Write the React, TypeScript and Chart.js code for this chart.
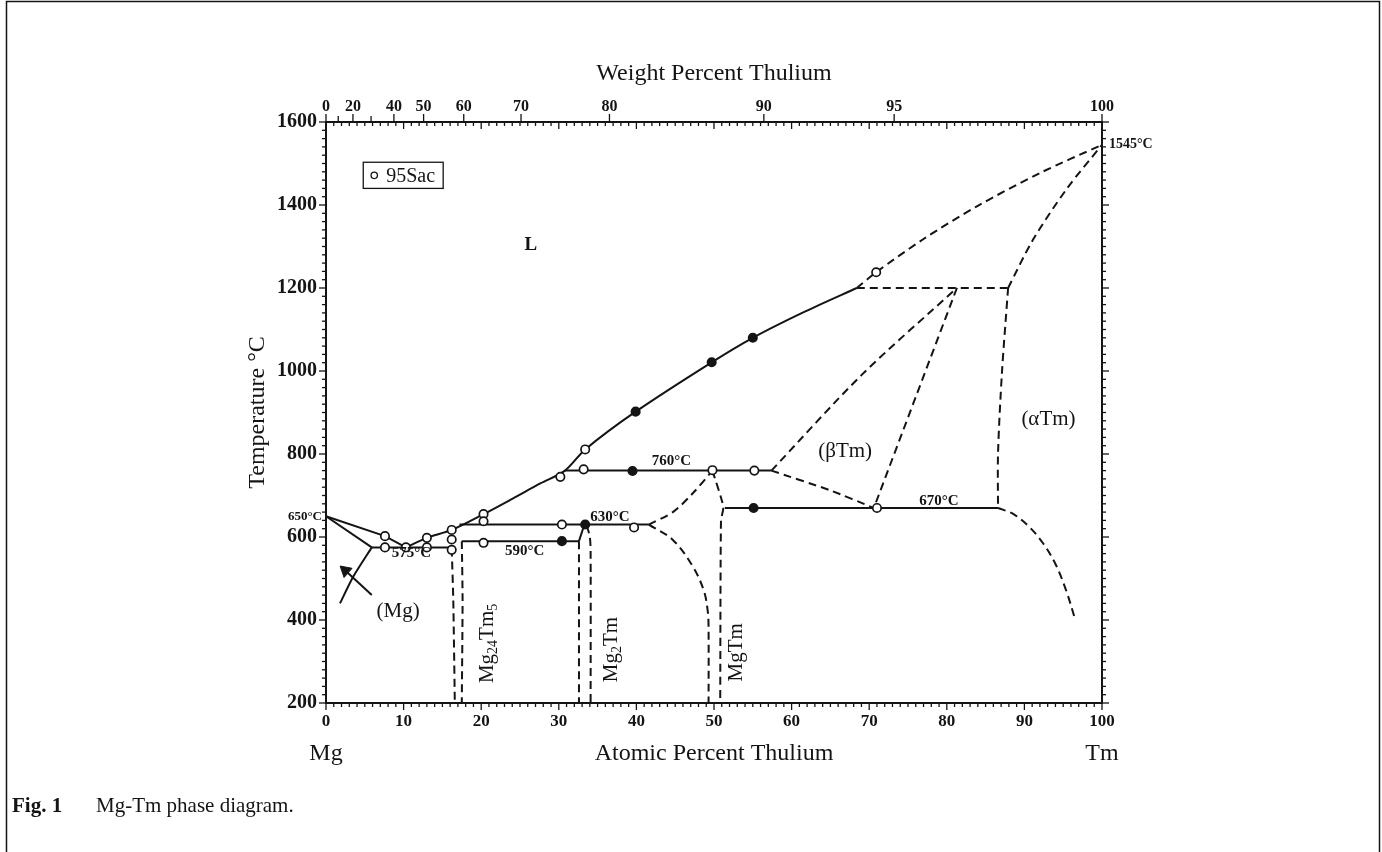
import React, { useEffect, useRef } from 'react';
import { Chart, registerables } from 'chart.js';

Chart.register(...registerables);

const SERIF = '"Liberation Serif", "DejaVu Serif", "Times New Roman", serif';
const INK = '#141414';

// ---- axis data ----
const atomicTicks = [0, 10, 20, 30, 40, 50, 60, 70, 80, 90, 100];
const temperatureTicks = [200, 400, 600, 800, 1000, 1200, 1400, 1600];
const weightLabels = [0, 20, 40, 50, 60, 70, 80, 90, 95, 100];
const weightUnlabeled = [10, 30];

// ---- solid phase boundaries [at.% Tm, °C] ----
const liquidusMg = [[0, 650], [7.6, 602], [10.3, 575]];
const liquidusMain = [
  [10.3, 575], [13.0, 598], [16.2, 617], [20.3, 655], [24.0, 692], [27.6, 729],
  [30.8, 760], [33.4, 811], [39.9, 902], [49.7, 1021], [55.0, 1080], [61.7, 1143], [68.4, 1200],
];
const solidusMg = [[0, 650], [5.9, 575]];
const solvusMg = [[5.9, 575], [3.5, 504], [1.8, 440]];
const eutectic575 = [[5.9, 575], [16.2, 575]];
const peritectic590 = [[17.5, 590], [32.6, 590]];
const peritectic630 = [[17.2, 630], [41.6, 630]];
const mg2TmSolid = [[32.6, 590], [33.3, 630]];
const peritectic760 = [[30.8, 760], [57.4, 760]];
const eutectoid670 = [[51.4, 670], [86.6, 670]];
const arrowShaft = [[5.9, 460], [2.8, 514]];
const arrowHead = [[2.5, 519]];

// ---- dashed phase boundaries ----
const mg24Tm5Left = [[16.2, 572], [16.4, 450], [16.6, 200]];
const mg24Tm5Right = [[17.5, 590], [17.6, 450], [17.5, 200]];
const mg2TmLeft = [[32.6, 590], [32.6, 200]];
const mg2TmRight = [[33.6, 628], [34.0, 600], [34.1, 560], [34.1, 200]];
const mgTmLeft = [[41.6, 630], [44.7, 593], [47.3, 528], [48.7, 470], [49.2, 420], [49.3, 380], [49.3, 200]];
const mgTmRight = [[49.8, 760], [51.2, 673], [50.9, 640], [50.8, 200]];
const mgTmLiquidus = [[41.6, 630], [44.7, 660], [47.3, 706], [49.8, 760]];
const betaUpper = [[57.4, 760], [69.0, 990], [81.3, 1200]];
const betaLower = [[57.4, 760], [64.9, 713], [70.6, 670]];
const betaAlpha = [[81.3, 1200], [70.6, 670]];
const alphaBoundary = [[87.9, 1200], [87.1, 994], [86.6, 800], [86.6, 670]];
const alphaSolvus = [[86.6, 670], [88.6, 655], [90.6, 625], [92.4, 585], [94.0, 535], [95.4, 470], [96.5, 404]];
const isotherm1200 = [[68.4, 1200], [87.9, 1200]];
const liquidusTm = [[68.4, 1200], [70.9, 1238], [77.0, 1318], [84.0, 1398], [92.0, 1477], [100, 1545]];
const solidusTm = [[87.9, 1200], [91.1, 1316], [95.5, 1440], [100, 1545]];

// ---- experimental points (95Sac) ----
const openPoints = [
  [7.6, 602], [7.6, 575], [10.3, 575], [13.0, 575], [16.2, 569], [13.0, 598], [16.2, 594],
  [16.2, 617], [20.3, 655], [20.3, 638], [20.3, 586], [30.2, 745], [30.4, 630], [33.4, 811],
  [33.2, 763], [39.7, 623], [49.8, 761], [55.2, 760], [70.9, 1238], [71.0, 670],
];
const filledPoints = [
  [30.4, 590], [33.4, 630], [39.5, 759], [39.9, 902], [49.7, 1021], [55.0, 1080], [55.1, 670],
];

const M_TM = 168.934;
const M_MG = 24.305;
const wtToAt = (w: number) =>
  w >= 100 ? 100 : ((w / M_TM) / (w / M_TM + (100 - w) / M_MG)) * 100;

const toPts = (a: number[][]) => a.map(([x, y]) => ({ x, y }));

const lineSet = (a: number[][], dashed = false, tension = 0) => ({
  data: toPts(a),
  showLine: true,
  borderColor: INK,
  borderWidth: 2,
  borderDash: dashed ? [8, 5] : [],
  pointRadius: 0,
  tension,
  fill: false,
  order: 2,
  clip: false as any,
});

const datasets: any[] = [
  {
    data: toPts(openPoints), showLine: false, pointStyle: 'circle', pointRadius: 4.2,
    pointBorderWidth: 1.7, pointBackgroundColor: '#ffffff', pointBorderColor: INK, order: 0, clip: false,
  },
  {
    data: toPts(filledPoints), showLine: false, pointStyle: 'circle', pointRadius: 4.2,
    pointBorderWidth: 1.7, pointBackgroundColor: INK, pointBorderColor: INK, order: 0, clip: false,
  },
  {
    data: toPts(arrowHead), showLine: false, pointStyle: 'triangle', pointRadius: 7,
    rotation: -49, pointBorderWidth: 1, pointBackgroundColor: INK, pointBorderColor: INK, order: 0, clip: false,
  },
  lineSet(liquidusMg),
  lineSet(liquidusMain, false, 0.3),
  lineSet(solidusMg),
  lineSet(solvusMg, false, 0.2),
  lineSet(eutectic575),
  lineSet(peritectic590),
  lineSet(peritectic630),
  lineSet(mg2TmSolid),
  lineSet(peritectic760),
  lineSet(eutectoid670),
  lineSet(arrowShaft),
  lineSet(mg24Tm5Left, true, 0.2),
  lineSet(mg24Tm5Right, true, 0.2),
  lineSet(mg2TmLeft, true),
  lineSet(mg2TmRight, true, 0.3),
  lineSet(mgTmLeft, true, 0.35),
  lineSet(mgTmRight, true, 0.2),
  lineSet(mgTmLiquidus, true, 0.3),
  lineSet(betaUpper, true, 0.3),
  lineSet(betaLower, true, 0.2),
  lineSet(betaAlpha, true),
  lineSet(alphaBoundary, true, 0.3),
  lineSet(alphaSolvus, true, 0.35),
  lineSet(isotherm1200, true),
  lineSet(liquidusTm, true, 0.3),
  lineSet(solidusTm, true, 0.3),
];

// annotation text positions (data coordinates)
const annotations = [
  { t: 'L', x: 26.4, y: 1304, font: `bold 19px ${SERIF}` },
  { t: '575°C', x: 11.0, y: 561, font: `bold 15px ${SERIF}` },
  { t: '590°C', x: 25.6, y: 566, font: `bold 15px ${SERIF}` },
  { t: '630°C', x: 36.6, y: 648, font: `bold 15px ${SERIF}` },
  { t: '760°C', x: 44.5, y: 782, font: `bold 15px ${SERIF}` },
  { t: '670°C', x: 79.0, y: 687, font: `bold 15px ${SERIF}` },
  { t: '(βTm)', x: 66.9, y: 805, font: `21px ${SERIF}` },
  { t: '(αTm)', x: 93.1, y: 882, font: `21px ${SERIF}` },
  { t: '(Mg)', x: 9.3, y: 420, font: `21px ${SERIF}` },
];

const rotatedLabels = [
  { x: 20.6, y: 248, parts: [{ t: 'Mg' }, { t: '24', sub: true }, { t: 'Tm' }, { t: '5', sub: true }] },
  { x: 36.6, y: 250, parts: [{ t: 'Mg' }, { t: '2', sub: true }, { t: 'Tm' }] },
  { x: 52.7, y: 252, parts: [{ t: 'MgTm' }] },
];

const decorPlugin = {
  id: 'decor',
  beforeDraw(chart: any) {
    const ctx = chart.ctx;
    ctx.save();
    ctx.fillStyle = '#ffffff';
    ctx.fillRect(0, 0, chart.width, chart.height);
    ctx.restore();
  },
  afterDraw(chart: any) {
    const ctx: CanvasRenderingContext2D = chart.ctx;
    const xs = chart.scales.x;
    const ys = chart.scales.y;
    const { left, right, top, bottom } = chart.chartArea;
    const px = (v: number) => xs.getPixelForValue(v);
    const py = (v: number) => ys.getPixelForValue(v);
    ctx.save();
    ctx.strokeStyle = INK;
    ctx.fillStyle = INK;

    // outer figure border
    ctx.lineWidth = 1.5;
    ctx.strokeRect(6.5, 1.5, 1373, 900);

    // plot frame
    ctx.lineWidth = 2;
    ctx.strokeRect(left, top, right - left, bottom - top);

    ctx.lineWidth = 1.3;
    const seg = (x1: number, y1: number, x2: number, y2: number) => {
      ctx.beginPath();
      ctx.moveTo(x1, y1);
      ctx.lineTo(x2, y2);
      ctx.stroke();
    };
    // bottom & top minor ticks every 1 at.%
    for (let a = 0; a <= 100; a += 1) {
      const x = px(a);
      const major = a % 10 === 0;
      seg(x, bottom, x, bottom + (major ? 7 : 4));
      seg(x, top, x, top + (major ? 7 : 4));
    }
    // left & right ticks every 20 °C
    for (let t = 200; t <= 1600; t += 20) {
      const y = py(t);
      const major = t % 200 === 0;
      seg(left, y, left - (major ? 7 : 4), y);
      seg(right, y, right + (major ? 7 : 4), y);
    }
    // top weight-percent ticks
    for (const w of [...weightLabels, ...weightUnlabeled]) {
      const x = px(wtToAt(w));
      seg(x, top, x, top - (weightLabels.includes(w) ? 8 : 6));
    }

    // tick labels
    ctx.textAlign = 'center';
    ctx.textBaseline = 'top';
    ctx.font = `bold 17px ${SERIF}`;
    for (const a of atomicTicks) ctx.fillText(String(a), px(a), bottom + 10);

    ctx.textBaseline = 'alphabetic';
    ctx.font = `bold 16px ${SERIF}`;
    for (const w of weightLabels) ctx.fillText(String(w), px(wtToAt(w)), top - 11);

    ctx.textAlign = 'right';
    ctx.textBaseline = 'middle';
    ctx.font = `bold 20px ${SERIF}`;
    for (const t of temperatureTicks) ctx.fillText(String(t), left - 9, py(t));

    ctx.font = `bold 13px ${SERIF}`;
    ctx.fillText('650°C', left - 4, py(650));
    ctx.textAlign = 'left';
    ctx.font = `bold 14px ${SERIF}`;
    ctx.fillText('1545°C', right + 7, py(1545));

    // axis titles
    ctx.font = `24px ${SERIF}`;
    ctx.textAlign = 'center';
    ctx.textBaseline = 'alphabetic';
    const cx = (left + right) / 2;
    ctx.fillText('Weight Percent Thulium', cx, 80);
    ctx.fillText('Atomic Percent Thulium', cx, bottom + 57);
    ctx.fillText('Mg', left, bottom + 57);
    ctx.fillText('Tm', right, bottom + 57);
    ctx.save();
    ctx.translate(258, (top + bottom) / 2);
    ctx.rotate(-Math.PI / 2);
    ctx.textBaseline = 'middle';
    ctx.fillText('Temperature °C', 0, 0);
    ctx.restore();

    // caption
    ctx.textAlign = 'left';
    ctx.font = `bold 21px ${SERIF}`;
    ctx.fillText('Fig. 1', 12, 812);
    ctx.font = `21px ${SERIF}`;
    ctx.fillText('Mg-Tm phase diagram.', 96, 812);

    // legend box
    const bx1 = px(4.8), by1 = py(1503), bx2 = px(15.1), by2 = py(1440);
    ctx.lineWidth = 1.3;
    ctx.strokeRect(bx1, by1, bx2 - bx1, by2 - by1);
    ctx.beginPath();
    ctx.arc(bx1 + 11, (by1 + by2) / 2, 3.2, 0, Math.PI * 2);
    ctx.stroke();
    ctx.font = `20px ${SERIF}`;
    ctx.textBaseline = 'middle';
    ctx.fillText('95Sac', bx1 + 23, (by1 + by2) / 2 + 1);

    // annotations
    ctx.textAlign = 'center';
    ctx.textBaseline = 'middle';
    for (const a of annotations) {
      ctx.font = a.font;
      ctx.fillText(a.t, px(a.x), py(a.y));
    }

    // rotated phase labels
    ctx.textAlign = 'left';
    ctx.textBaseline = 'alphabetic';
    for (const r of rotatedLabels) {
      ctx.save();
      ctx.translate(px(r.x), py(r.y));
      ctx.rotate(-Math.PI / 2);
      let cxr = 0;
      for (const p of r.parts as { t: string; sub?: boolean }[]) {
        ctx.font = p.sub ? `14px ${SERIF}` : `21px ${SERIF}`;
        ctx.fillText(p.t, cxr, p.sub ? 11 : 7);
        cxr += ctx.measureText(p.t).width;
      }
      ctx.restore();
    }
    ctx.restore();
  },
};

export default function App() {
  const ref = useRef<HTMLCanvasElement>(null);
  useEffect(() => {
    document.body.style.margin = '0';
    const canvas = ref.current;
    if (!canvas) return;
    const chart = new Chart(canvas, {
      type: 'scatter',
      data: { datasets },
      options: {
        animation: false,
        responsive: false,
        devicePixelRatio: 1,
        events: [],
        layout: { padding: { left: 326, right: 280, top: 122, bottom: 149 } },
        scales: {
          x: { type: 'linear', min: 0, max: 100, display: false },
          y: { type: 'linear', min: 200, max: 1600, display: false },
        },
        plugins: { legend: { display: false }, tooltip: { enabled: false } },
      } as any,
      plugins: [decorPlugin as any],
    });
    return () => chart.destroy();
  }, []);
  return (
    <canvas
      ref={ref}
      width={1382}
      height={852}
      style={{ display: 'block', width: 1382, height: 852 }}
    />
  );
}
